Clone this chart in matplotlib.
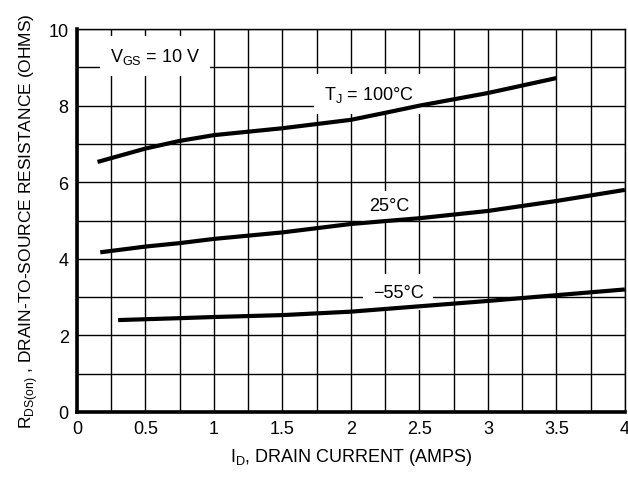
import numpy as np
import matplotlib.pyplot as plt
from matplotlib.ticker import MultipleLocator

plt.rcParams['font.family'] = ['Liberation Sans', 'DejaVu Sans']
plt.rcParams['mathtext.fontset'] = 'custom'
plt.rcParams['mathtext.rm'] = 'Liberation Sans'

# drain current (A) and on-resistance (ohm)
id_100 = [0.15, 0.5, 0.75, 1.0, 1.5, 2.0, 2.26, 2.5, 3.0, 3.5]
r_100 = [6.53, 6.88, 7.08, 7.23, 7.41, 7.63, 7.82, 8.0, 8.33, 8.72]

id_25 = [0.17, 0.5, 0.75, 1.0, 1.5, 2.0, 2.5, 3.0, 3.5, 4.0]
r_25 = [4.17, 4.32, 4.41, 4.52, 4.69, 4.91, 5.06, 5.25, 5.51, 5.8]

id_m55 = [0.3, 0.75, 1.0, 1.5, 2.0, 2.25, 2.5, 2.75, 3.0, 3.5, 4.0]
r_m55 = [2.4, 2.45, 2.48, 2.53, 2.62, 2.69, 2.76, 2.83, 2.9, 3.05, 3.2]

xticks = [0, 0.5, 1, 1.5, 2, 2.5, 3, 3.5, 4]
xticklabels = ['0', '0.5', '1', '1.5', '2', '2.5', '3', '3.5', '4']
yticks = [0, 2, 4, 6, 8, 10]

fig = plt.figure(figsize=(6.28, 4.85), dpi=100)
ax = fig.add_axes([0.1226, 0.1485, 0.8724, 0.7895])

for x, y in [(id_100, r_100), (id_25, r_25), (id_m55, r_m55)]:
    ax.plot(x, y, color='black', lw=3.0, solid_capstyle='butt', zorder=4)

ax.set_xlim(0, 4)
ax.set_ylim(0, 10)
ax.set_xticks(xticks)
ax.set_xticklabels(xticklabels)
ax.set_yticks(yticks)
ax.xaxis.set_minor_locator(MultipleLocator(0.25))
ax.yaxis.set_minor_locator(MultipleLocator(1))
ax.grid(which='both', color='black', lw=1.0)
ax.set_axisbelow(True)
ax.tick_params(which='both', length=0, labelsize=13, pad=6)

for s in ['left', 'bottom']:
    ax.spines[s].set_linewidth(2.6)
for s in ['top', 'right']:
    ax.spines[s].set_linewidth(1.0)

box = dict(facecolor='white', edgecolor='none', pad=7)
ax.text(0.24, 9.3, r'V$_{\mathregular{GS}}$ = 10 V', fontsize=13, va='center', bbox=box, zorder=3)
ax.text(1.80, 8.3, r'T$_{\mathregular{J}}$ = 100°C', fontsize=13, va='center', bbox=box, zorder=3)
ax.text(2.13, 5.38, '25°C', fontsize=13, va='center',
        bbox=dict(facecolor='white', edgecolor='none', pad=5), zorder=3)
ax.text(2.16, 3.13, '\u221255°C', fontsize=13, va='center', bbox=box, zorder=3)

ax.set_xlabel(r'I$_{\mathregular{D}}$, DRAIN CURRENT (AMPS)', fontsize=13, labelpad=6)
ax.set_ylabel(r'R$_{\mathregular{DS(on)}}$ , DRAIN-TO-SOURCE RESISTANCE (OHMS)', fontsize=12.5, labelpad=6)

fig.savefig('out.png', dpi=100)
